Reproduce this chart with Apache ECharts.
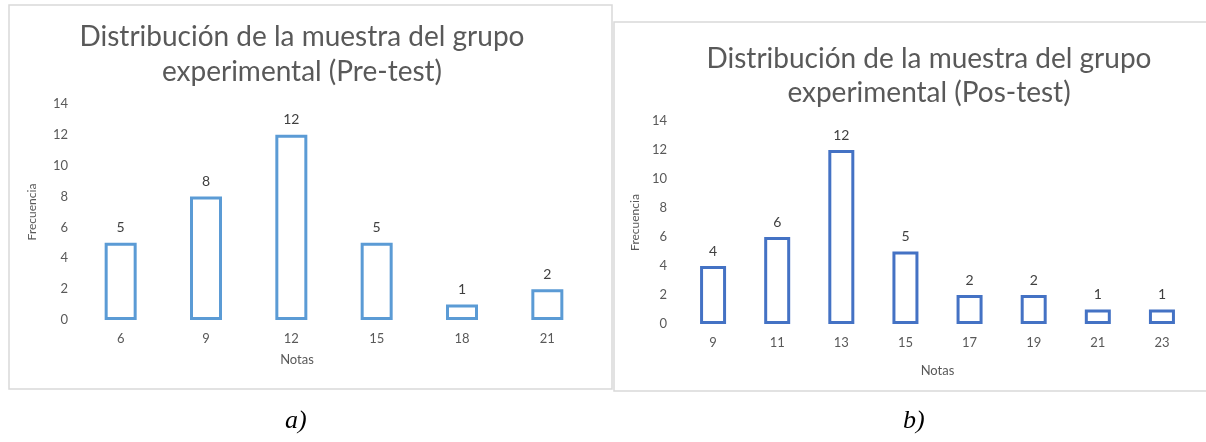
<!DOCTYPE html>
<html>
<head>
    <meta charset="UTF-8">
    <title>Distribución de la muestra</title>
    <script src="https://cdn.jsdelivr.net/npm/echarts@6/dist/echarts.min.js"></script>
    <style>
        html, body { margin: 0; padding: 0; background: #fff; }
        #chart { width: 1206px; height: 442px; }
    </style>
</head>
<body>
    <div id="chart"></div>
    <script>
        // datos
        var notasPre = ['6', '9', '12', '15', '18', '21'];
        var frecPre = [5, 8, 12, 5, 1, 2];
        var notasPos = ['9', '11', '13', '15', '17', '19', '21', '23'];
        var frecPos = [4, 6, 12, 5, 2, 2, 1, 1];
        var tituloPre = 'Distribución de la muestra del grupo\nexperimental (Pre-test)';
        var tituloPos = 'Distribución de la muestra del grupo\nexperimental (Pos-test)';

        var gris = '#595959';
        var fuente = 'Lato';

        var chart = echarts.init(document.getElementById('chart'), null, {renderer: 'canvas'});

        function ejeX(idx, datos, padding) {
            return {
                gridIndex: idx, type: 'category', data: datos,
                axisLine: {show: false}, axisTick: {show: false},
                axisLabel: {color: gris, fontSize: 13, fontFamily: fuente, margin: 12},
                name: 'Notas', nameLocation: 'middle', nameGap: idx === 0 ? 33 : 40,
                nameTextStyle: {color: gris, fontSize: 13, fontFamily: fuente, padding: padding}
            };
        }
        function ejeY(idx, margen) {
            return {
                gridIndex: idx, type: 'value', min: 0, max: 14, interval: 2,
                splitLine: {show: false}, axisLine: {show: false}, axisTick: {show: false},
                axisLabel: {color: gris, fontSize: 13, fontFamily: fuente, margin: margen},
                name: 'Frecuencia', nameLocation: 'middle', nameGap: 40,
                nameTextStyle: {color: gris, fontSize: 12, fontFamily: fuente}
            };
        }
        function serie(idx, datos, color, ancho) {
            return {
                type: 'bar', xAxisIndex: idx, yAxisIndex: idx, data: datos,
                barWidth: ancho,
                itemStyle: {color: '#ffffff', borderColor: color, borderWidth: 3},
                label: {show: true, position: 'top', distance: 8, color: '#404040',
                        fontSize: 14, fontFamily: fuente},
                silent: true
            };
        }

        chart.setOption({
            animation: false,
            title: [
                {text: tituloPre, left: 297, top: 14, textAlign: 'center',
                 textStyle: {color: gris, fontSize: 28, fontWeight: 'normal', fontFamily: fuente, lineHeight: 35}},
                {text: tituloPos, left: 924, top: 37, textAlign: 'center',
                 textStyle: {color: gris, fontSize: 28, fontWeight: 'normal', fontFamily: fuente, lineHeight: 34}}
            ],
            grid: [
                {left: 78, width: 512, top: 104, height: 216},
                {left: 681, width: 513, top: 121, height: 203}
            ],
            xAxis: [ejeX(0, notasPre, [0, 74, 0, 0]), ejeX(1, notasPos, 0)],
            yAxis: [ejeY(0, 10), ejeY(1, 14)],
            series: [
                serie(0, frecPre, '#5B9BD5', 32),
                serie(1, frecPos, '#4472C4', 26)
            ],
            graphic: [
                {type: 'rect', shape: {x: 9, y: 5, width: 603, height: 384},
                 style: {fill: 'none', stroke: '#d9d9d9', lineWidth: 1.5}, z: -1},
                {type: 'rect', shape: {x: 614, y: 22, width: 600, height: 369},
                 style: {fill: 'none', stroke: '#d9d9d9', lineWidth: 1.5}, z: -1},
                {type: 'text', left: 285, top: 408,
                 style: {text: 'a)', fill: '#000', font: 'italic 26px "Liberation Serif"'}},
                {type: 'text', left: 903, top: 408,
                 style: {text: 'b)', fill: '#000', font: 'italic 26px "Liberation Serif"'}}
            ]
        });
    </script>
</body>
</html>
